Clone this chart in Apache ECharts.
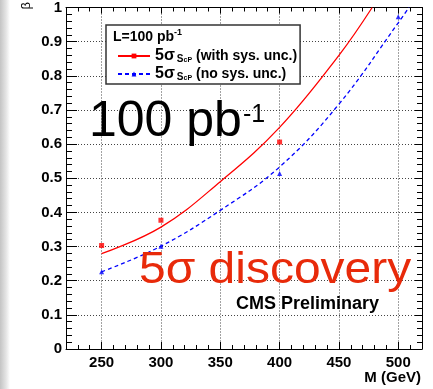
<!DOCTYPE html>
<html>
<head>
<meta charset="utf-8">
<script src="https://cdn.jsdelivr.net/npm/echarts@6/dist/echarts.min.js"></script>
<style>
html,body{margin:0;padding:0;background:#fff;}
#chart{width:433px;height:389px;}
</style>
</head>
<body>
<div id="chart"></div>
<script>
// ---- data ----
const xTicks = [250, 300, 350, 400, 450, 500];
const yTicks = [0, 0.1, 0.2, 0.3, 0.4, 0.5, 0.6, 0.7, 0.8, 0.9, 1];
// fit curves (read at grid lines)
const redFitM = [250, 300, 350, 400, 450, 478];
const redFitBeta = [0.279, 0.357, 0.49, 0.649, 0.86, 1.0];
const blueFitM = [250, 300, 350, 400, 450, 500, 509];
const blueFitBeta = [0.226, 0.301, 0.406, 0.533, 0.717, 0.955, 1.0];
// measured points
const redPtsM = [250, 300, 400];
const redPtsBeta = [0.303, 0.377, 0.606];
const bluePtsM = [250, 300, 400, 500];
const bluePtsBeta = [0.226, 0.301, 0.514, 0.973];
const seriesNames = ['with', 'no'];
const legendTexts = ['(with sys. unc.)', '(no sys. unc.)'];

const zip = (a, b) => a.map((v, i) => [v, b[i]]);
const FONT = 'Liberation Sans';
const gridStyle = { color: '#444', type: [1, 2], width: 1 };

const chart = echarts.init(document.getElementById('chart'), null, { renderer: 'canvas' });

const xBase = { type: 'value', min: 220, max: 520, gridIndex: 0 };
const yBase = { type: 'value', min: 0, max: 1, interval: 0.1, gridIndex: 0 };

const option = {
  animation: false,
  backgroundColor: '#fff',
  grid: { left: 66, top: 4, right: 11, bottom: 40, containLabel: false },
  xAxis: [
    Object.assign({}, xBase, {
      position: 'bottom', interval: 10,
      axisLine: { show: true, lineStyle: { color: '#000', width: 1 } },
      axisTick: { show: true, inside: true, length: 4, lineStyle: { color: '#000' } },
      axisLabel: { show: false }, splitLine: { show: false }
    }),
    Object.assign({}, xBase, {
      position: 'bottom', interval: 10,
      axisLine: { show: false },
      axisTick: { show: true, inside: true, length: 7, customValues: xTicks, lineStyle: { color: '#000' } },
      axisLabel: { show: true, customValues: xTicks, margin: 6, color: '#000',
        fontFamily: FONT, fontWeight: 'bold', fontSize: 15 },
      splitLine: { show: true, lineStyle: gridStyle }
    }),
    Object.assign({}, xBase, {
      position: 'top', interval: 10,
      axisLine: { show: true, lineStyle: { color: '#000', width: 1 } },
      axisTick: { show: true, inside: true, length: 4, lineStyle: { color: '#000' } },
      axisLabel: { show: false }, splitLine: { show: false }
    }),
    Object.assign({}, xBase, {
      position: 'top', interval: 10,
      axisLine: { show: false },
      axisTick: { show: true, inside: true, length: 6, customValues: xTicks, lineStyle: { color: '#000' } },
      axisLabel: { show: false }, splitLine: { show: false }
    })
  ],
  yAxis: [
    Object.assign({}, yBase, {
      position: 'left',
      axisLine: { show: true, lineStyle: { color: '#000', width: 1 } },
      axisTick: { show: true, inside: true, length: 11, lineStyle: { color: '#000' } },
      minorTick: { show: true, splitNumber: 5, length: 6, lineStyle: { color: '#000' } },
      axisLabel: { show: true, margin: 4, color: '#000', padding: [4, 0, 0, 0],
        fontFamily: FONT, fontWeight: 'bold', fontSize: 15,
        formatter: v => String(+v.toFixed(1)) },
      splitLine: { show: true, lineStyle: gridStyle }
    }),
    Object.assign({}, yBase, {
      position: 'right',
      axisLine: { show: true, lineStyle: { color: '#000', width: 1 } },
      axisTick: { show: true, inside: true, length: 7, lineStyle: { color: '#000' } },
      minorTick: { show: true, splitNumber: 5, length: 5, lineStyle: { color: '#000' } },
      axisLabel: { show: false }, splitLine: { show: false }
    })
  ],
  legend: {
    data: seriesNames,
    orient: 'vertical',
    left: 106, top: 25,
    padding: [21, 3, 0, 11],
    itemGap: -2,
    itemWidth: 32, itemHeight: 6,
    backgroundColor: '#fff',
    borderColor: '#333', borderWidth: 1.5, borderRadius: 0,
    selectedMode: false,
    formatter: name => '{a|5σ}{b|S}{c|cP}{d| ' + legendTexts[seriesNames.indexOf(name)] + '}',
    textStyle: {
      color: '#000',
      rich: {
        a: { fontFamily: FONT, fontWeight: 'bold', fontSize: 16, lineHeight: 16, padding: [2, 2, 2, 0] },
        b: { fontFamily: FONT, fontWeight: 'bold', fontSize: 10, lineHeight: 12, verticalAlign: 'bottom' },
        c: { fontFamily: FONT, fontWeight: 'bold', fontSize: 7, lineHeight: 4, verticalAlign: 'bottom' },
        d: { fontFamily: FONT, fontWeight: 'bold', fontSize: 14, lineHeight: 16, padding: [2, 0, 2, 0] }
      }
    }
  },
  graphic: [
    { type: 'rect', left: 0, top: 0, z: -10, silent: true,
      shape: { width: 10, height: 389 },
      style: { fill: new echarts.graphic.LinearGradient(0, 0, 1, 0, [
        { offset: 0, color: '#c4c4c4' }, { offset: 0.6, color: '#e4e4e4' }, { offset: 1, color: '#ffffff' }]) } },
    { type: 'text', x: 113, y: 28, z: 100, silent: true,
      style: { text: '{a|L=100 pb}{b|-1}', fill: '#000',
        rich: { a: { fontFamily: FONT, fontWeight: 'bold', fontSize: 14, lineHeight: 15, padding: [3, 0, 0, 0] },
                b: { fontFamily: FONT, fontWeight: 'bold', fontSize: 9, lineHeight: 10, verticalAlign: 'top' } } } },
    { type: 'text', x: 89, y: 122, z: 50, silent: true,
      style: { text: '100 pb', fill: '#000', fontFamily: FONT, fontSize: 50, verticalAlign: 'middle' } },
    { type: 'text', x: 243, y: 115, z: 50, silent: true,
      style: { text: '-1', fill: '#000', fontFamily: FONT, fontSize: 25, verticalAlign: 'middle' } },
    { type: 'text', x: 139, y: 271, scaleX: 1.09, z: 50, silent: true,
      style: { text: '5σ discovery', fill: '#e82a0a', fontFamily: FONT, fontSize: 44, verticalAlign: 'middle' } },
    { type: 'text', x: 236, y: 304, z: 50, silent: true,
      style: { text: 'CMS Preliminary', fill: '#000', fontFamily: FONT, fontWeight: 'bold', fontSize: 18, verticalAlign: 'middle' } },
    { type: 'text', x: 421, y: 378, z: 50, silent: true,
      style: { text: 'M (GeV)', fill: '#000', fontFamily: FONT, fontWeight: 'bold', fontSize: 15, align: 'right', verticalAlign: 'middle' } },
    { type: 'text', left: 20, top: 2, z: 50, rotation: Math.PI / 2, silent: true,
      style: { text: 'β', fill: '#000', fontFamily: FONT, fontSize: 13 } }
  ],
  series: [
    { name: seriesNames[0], type: 'line', xAxisIndex: 0, yAxisIndex: 0,
      data: zip(redFitM, redFitBeta), smooth: 0.4, showSymbol: false,
      symbol: 'rect', symbolSize: 5,
      itemStyle: { color: '#ff0000' },
      lineStyle: { color: '#ff0000', width: 1.3 }, z: 3 },
    { name: seriesNames[1], type: 'line', xAxisIndex: 0, yAxisIndex: 0,
      data: zip(blueFitM, blueFitBeta), smooth: 0.4, showSymbol: false,
      symbol: 'triangle', symbolSize: 4,
      itemStyle: { color: '#0000ff' },
      lineStyle: { color: '#0000ff', width: 1.3, type: [4, 3] }, z: 3 },
    { name: 'with-pts', type: 'scatter', xAxisIndex: 0, yAxisIndex: 0,
      data: zip(redPtsM, redPtsBeta), symbol: 'rect', symbolSize: 5,
      itemStyle: { color: '#ff0000' }, z: 4 },
    { name: 'no-pts', type: 'scatter', xAxisIndex: 0, yAxisIndex: 0,
      data: zip(bluePtsM, bluePtsBeta), symbol: 'triangle', symbolSize: 5,
      itemStyle: { color: '#0000ff' }, z: 4 }
  ]
};
chart.setOption(option);
</script>
</body>
</html>
